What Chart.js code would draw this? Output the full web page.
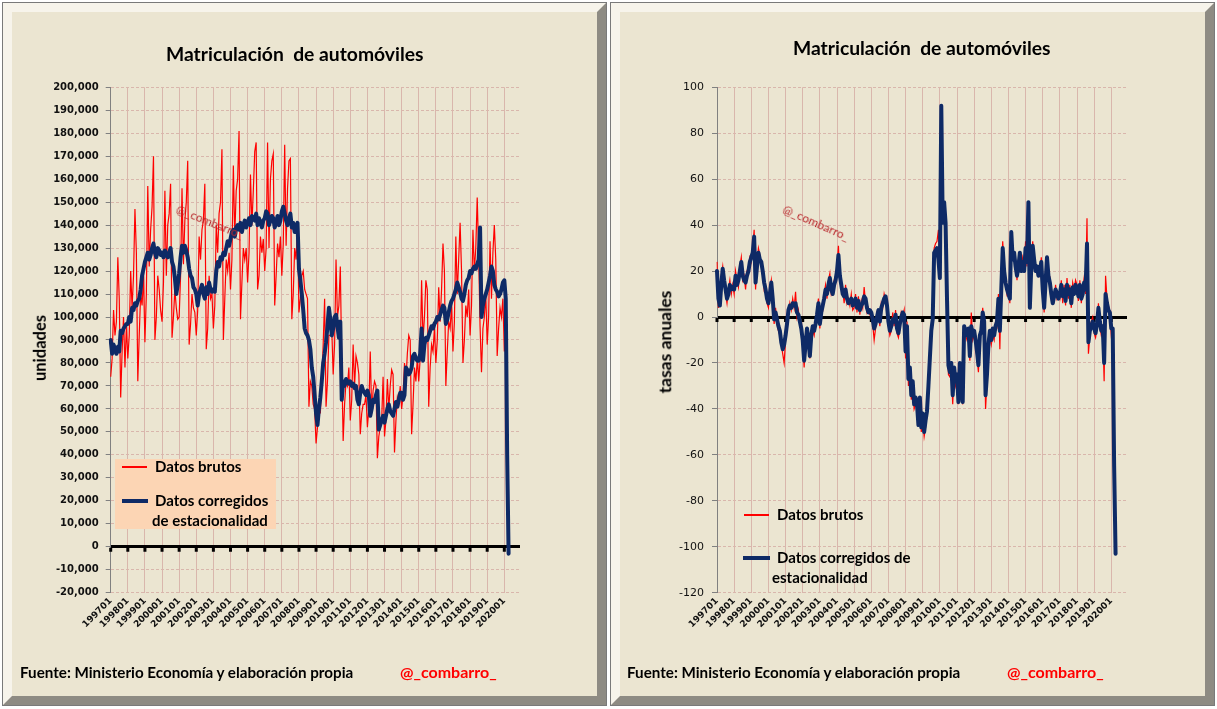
<!DOCTYPE html>
<html>
<head>
<meta charset="utf-8">
<script src="https://cdn.jsdelivr.net/npm/chart.js@4.4.1/dist/chart.umd.min.js"></script>
<style>
  html, body { margin: 0; padding: 0; background: #fff; width: 1217px; height: 709px; overflow: hidden; }
  .panel { position: absolute; top: 2px; width: 605px; height: 704px; box-sizing: border-box; border: 1px solid #7a7a7a; }
  .frame { position: absolute; left: 0; top: 0; right: 0; bottom: 0; border-style: solid; border-width: 9px;
           border-color: #F7F4EB #8E8B83 #8E8B83 #F7F4EB; background: #EBE5D1; }
  canvas { position: absolute; z-index: 1; }
  .t { position: absolute; z-index: 3; font-family: Lato, "Open Sans", sans-serif; font-weight: bold; color: #000; white-space: pre; line-height: 1; }
  .red { color: #FF0000; }
  .wm { position: absolute; z-index: 3; font-family: Lato, sans-serif; font-size: 12px; color: #B8262A; white-space: pre; transform-origin: left top; line-height: 1; }
  .leg-box { position: absolute; z-index: 2; background: #FCD5B4; }
  .sw { position: absolute; z-index: 3; }
</style>
</head>
<body>

<div class="panel" style="left:2px"><div class="frame"></div></div>
<div class="panel" style="left:610px"><div class="frame"></div></div>

<canvas id="left" width="584" height="676" style="left:14px; top:14px"></canvas>
<canvas id="right" width="584" height="676" style="left:619px; top:14px"></canvas>

<!-- left panel texts -->
<div class="t" style="left:166px; top:44px; font-size:19.3px">Matriculación  de automóviles</div>
<div class="t" style="left:40px; top:348px; font-size:16.5px; transform: translate(-50%,-50%) rotate(-90deg)">unidades</div>
<div class="wm" style="left:179px; top:203px; transform: rotate(22deg)">@_combarro_</div>
<div class="leg-box" style="left:115px; top:459px; width:161px; height:70px"></div>
<div class="sw" style="left:122px; top:466px; width:25px; height:1.5px; background:#FF0000"></div>
<div class="t" style="left:155px; top:459px; font-size:15px">Datos brutos</div>
<div class="sw" style="left:122px; top:499px; width:26px; height:4px; background:#0E2A66"></div>
<div class="t" style="left:155px; top:493px; font-size:15px">Datos corregidos</div>
<div class="t" style="left:152px; top:513px; font-size:15px">de estacionalidad</div>
<div class="t" style="left:20px; top:665px; font-size:15.2px">Fuente: Ministerio Economía y elaboración propia</div>
<div class="t red" style="left:400px; top:664px; font-size:16px">@_combarro_</div>

<!-- right panel texts -->
<div class="t" style="left:793px; top:38px; font-size:19.3px">Matriculación  de automóviles</div>
<div class="t" style="left:665px; top:342px; font-size:17.5px; transform: translate(-50%,-50%) rotate(-90deg)">tasas anuales</div>
<div class="wm" style="left:786px; top:203px; transform: rotate(24deg)">@_combarro_</div>
<div class="sw" style="left:744px; top:514px; width:25px; height:1.5px; background:#FF0000"></div>
<div class="t" style="left:777px; top:507px; font-size:15px">Datos brutos</div>
<div class="sw" style="left:743px; top:556px; width:27px; height:4px; background:#0E2A66"></div>
<div class="t" style="left:777px; top:550px; font-size:15px">Datos corregidos de</div>
<div class="t" style="left:772px; top:570px; font-size:15px">estacionalidad</div>
<div class="t" style="left:627px; top:665px; font-size:15.2px">Fuente: Ministerio Economía y elaboración propia</div>
<div class="t red" style="left:1007px; top:664px; font-size:16px">@_combarro_</div>

<script>
// años del eje; las categorías son los meses AAAAMM
const years = [1997, 1998, 1999, 2000, 2001, 2002, 2003, 2004, 2005, 2006, 2007, 2008,
               2009, 2010, 2011, 2012, 2013, 2014, 2015, 2016, 2017, 2018, 2019, 2020];
const months = [];
years.forEach(y => { for (let m = 1; m <= 12; m++) months.push(y + String(m).padStart(2, '0')); });

// Matriculaciones, unidades (datos brutos), 199701-202004
const unitsRaw = [
  74000, 82000, 103000, 92000, 98000, 126000, 108000, 65000, 85000, 100000, 78000, 96000,
  82000, 92000, 120000, 104000, 118000, 147000, 128000, 72000, 92000, 110000, 105000, 118000,
  89000, 110000, 157000, 122000, 138000, 148000, 170000, 90000, 100000, 118000, 112000, 103000,
  98000, 115000, 155000, 118000, 140000, 145000, 158000, 91000, 100000, 112000, 104000, 99000,
  100000, 118000, 156000, 123000, 142000, 150000, 168000, 88000, 97000, 110000, 104000, 102000,
  92000, 103000, 135000, 125000, 138000, 142000, 158000, 86000, 95000, 118000, 108000, 110000,
  95000, 105000, 140000, 128000, 145000, 150000, 173000, 90000, 108000, 125000, 120000, 128000,
  112000, 125000, 166000, 135000, 155000, 160000, 181000, 99000, 115000, 130000, 125000, 130000,
  115000, 128000, 162000, 140000, 155000, 172000, 176000, 112000, 118000, 135000, 128000, 134000,
  120000, 130000, 176000, 130000, 160000, 168000, 171000, 105000, 118000, 132000, 126000, 135000,
  118000, 132000, 175000, 131000, 156000, 168000, 169000, 99000, 110000, 130000, 125000, 140000,
  102000, 108000, 118000, 120000, 112000, 110000, 108000, 61000, 72000, 70000, 62000, 60000,
  45000, 52000, 62000, 58000, 72000, 88000, 108000, 61000, 72000, 92000, 92000, 95000,
  75000, 88000, 125000, 100000, 105000, 122000, 80000, 46000, 62000, 72000, 70000, 78000,
  55000, 64000, 88000, 70000, 83000, 80000, 75000, 49000, 58000, 62000, 62000, 66000,
  52000, 60000, 85000, 58000, 68000, 72000, 70000, 38500, 48000, 52000, 55000, 74000,
  48000, 55000, 73000, 60000, 70000, 77000, 75000, 41000, 55000, 65000, 62000, 70000,
  60000, 66000, 80000, 72000, 84000, 92000, 90000, 49000, 62000, 78000, 72000, 82000,
  72000, 82000, 116000, 90000, 100000, 116000, 112000, 61000, 78000, 88000, 85000, 95000,
  80000, 90000, 113000, 98000, 112000, 132000, 120000, 70000, 85000, 98000, 95000, 105000,
  85000, 98000, 135000, 110000, 125000, 141000, 120000, 80000, 90000, 105000, 100000, 112000,
  92000, 105000, 138000, 120000, 130000, 152000, 128000, 96000, 76000, 95000, 100000, 110000,
  88000, 100000, 133000, 108000, 128000, 140000, 125000, 83000, 95000, 104000, 100000, 108000,
  85000, 95000, 38000, 4000
];

// Matriculaciones, unidades (corregidas de estacionalidad)
const unitsSa = [
  90000, 84000, 88000, 86000, 84000, 87000, 85000, 94000, 93000, 95000, 96000, 97000,
  97000, 100000, 98000, 104000, 103000, 106000, 105000, 107000, 108000, 112000, 118000, 121000,
  124000, 126000, 128000, 125000, 127000, 130000, 132000, 128000, 126000, 130000, 129000, 127000,
  128000, 126000, 129000, 127000, 126000, 128000, 130000, 124000, 122000, 117000, 110000, 114000,
  119000, 126000, 131000, 128000, 131000, 129000, 126000, 121000, 118000, 117000, 113000, 112000,
  110000, 105000, 110000, 112000, 114000, 110000, 108000, 113000, 110000, 115000, 112000, 111000,
  112000, 111000, 120000, 124000, 122000, 126000, 125000, 128000, 127000, 130000, 133000, 131000,
  134000, 137000, 138000, 135000, 139000, 140000, 138000, 141000, 137000, 140000, 142000, 139000,
  141000, 143000, 140000, 144000, 143000, 142000, 145000, 140000, 143000, 141000, 139000, 142000,
  143000, 146000, 145000, 140000, 142000, 144000, 143000, 139000, 141000, 144000, 140000, 142000,
  146000, 148000, 145000, 142000, 140000, 143000, 145000, 139000, 141000, 137000, 139000, 141000,
  121000, 116000, 110000, 103000, 95000, 93000, 92000, 90000, 86000, 78000, 74000, 66000,
  58000, 53000, 60000, 65000, 72000, 80000, 84000, 89000, 96000, 104000, 99000, 92000,
  95000, 100000, 101000, 96000, 91000, 98000, 64000, 72000, 70000, 73000, 72000, 71000,
  72000, 70000, 71000, 69000, 70000, 64000, 62000, 67000, 70000, 68000, 67000, 66000,
  68000, 66000, 57000, 60000, 64000, 63000, 66000, 68000, 51000, 53000, 55000, 57000,
  54000, 57000, 60000, 62000, 59000, 58000, 57000, 60000, 63000, 61000, 64000, 67000,
  67000, 64000, 66000, 78000, 77000, 75000, 76000, 78000, 83000, 84000, 82000, 81000,
  81000, 84000, 95000, 81000, 88000, 91000, 90000, 92000, 94000, 96000, 95000, 97000,
  98000, 100000, 99000, 101000, 103000, 105000, 104000, 97000, 99000, 102000, 105000, 107000,
  108000, 110000, 112000, 115000, 113000, 111000, 108000, 107000, 110000, 114000, 116000, 117000,
  120000, 119000, 121000, 122000, 121000, 123000, 125000, 139000, 100000, 105000, 108000, 110000,
  112000, 115000, 118000, 122000, 120000, 114000, 112000, 111000, 109000, 110000, 112000, 115000,
  116000, 108000, 40000, -3000
];

// Tasas anuales (%), datos brutos
const rateRaw = [
  24, 4, 8, 18, 22, 14, 10, 6, 12, 16, 10, 14,
  10, 20, 16, 13, 22, 26, 16, 18, 12, 20, 22, 26,
  24, 30, 38, 12, 24, 30, 27, 22, 18, 12, 14, 6,
  4, 12, 16, 6, -3, 4, -3, -6, -8, -12, -16, -20,
  -10, -5, 1, 6, 3, 8, 4, 11, 0, 3, -4, -6,
  -12, -22, -10, -7, -12, -18, -6, -6, -8, -2, 3, 8,
  -5, 4, 3, 10, 14, 8, 16, 19, 10, 12, 16, 18,
  22, 31, 16, 12, 12, 6, 14, 6, 8, 5, 10, 3,
  4, 10, 2, 9, 1, 7, 4, 13, 6, 2, 4, 1,
  0, -3, -10, -5, 2, 1, -4, 6, 4, 10, 7, 3,
  -4, -8, -6, 2, -4, 3, -7, -9, -5, 2, 0, 3,
  -18, -2, -30, -24, -36, -30, -40, -38, -40, -45, -38, -50,
  -44, -52, -48, -43, -33, -20, -10, 2, 30, 32, 33, 38,
  20, 88, 44, 47, 43, 10, -25, -26, -22, -38, -24, -30,
  -27, -38, -22, -32, -38, -6, -8, -10, -7, -19, 2, -10,
  -8, -12, -18, -24, -10, -4, 4, -4, -40, -28, -14, -8,
  -12, -8, -10, -2, -4, 10, -14, 15, 33, 22, 17, 10,
  12, 6, 35, 27, 26, 24, 16, 25, 26, 22, 26, 22,
  33, 22, 48, 6, 24, 33, 23, 22, 20, 20, 18, 26,
  14, 2, 18, 24, 16, 17, 8, 9, 7, 14, 8, 10,
  8, 16, 6, 14, 5, 17, 8, 14, 4, 15, 12, 16,
  14, 7, 16, 6, 12, 17, 10, 43, -16, -8, -2, 0,
  -7, -9, -5, 6, -4, -8, -6, -28, 18, 8, 5, 1,
  -8, -6, -69, -96
];

// Tasas anuales (%), datos corregidos de estacionalidad
const rateSa = [
  20, 8, 5, 14, 21, 16, 12, 8, 10, 14, 12, 13,
  12, 18, 14, 16, 20, 24, 18, 16, 15, 18, 20, 24,
  26, 28, 35, 15, 22, 28, 25, 24, 20, 15, 12, 8,
  6, 10, 15, 8, -1, 2, -1, -4, -6, -11, -14, -12,
  -8, -3, 3, 5, 4, 6, 5, 6, 2, 1, -2, -5,
  -10, -19, -12, -5, -10, -17, -8, -4, -6, -3, 1, 6,
  -3, 2, 5, 8, 12, 10, 14, 17, 12, 10, 14, 16,
  20, 27, 18, 14, 10, 9, 12, 8, 6, 7, 8, 5,
  6, 8, 4, 7, 3, 5, 6, 9, 8, 4, 2, 3,
  2, -1, -5, -3, 0, 3, -2, 4, 6, 8, 9, 5,
  -2, -6, -4, -1, -2, 1, -5, -7, -3, 0, 2, 1,
  -15, -4, -27, -22, -34, -28, -38, -35, -38, -47, -35, -48,
  -42, -50, -45, -41, -30, -18, -6, -1, 28, 29, 30, 25,
  17, 92, 41, 50, 41, 8, -21, -24, -20, -34, -22, -28,
  -25, -37, -20, -30, -37, -4, -6, -8, -5, -17, -4, -8,
  -6, -10, -15, -21, -8, -6, 2, -2, -34, -25, -12, -6,
  -10, -5, -8, -4, -2, 8, -6, 12, 30, 20, 15, 12,
  10, 8, 37, 25, 28, 22, 18, 22, 28, 20, 24, 20,
  30, 24, 50, 4, 22, 31, 25, 20, 22, 18, 20, 24,
  12, 4, 15, 26, 18, 15, 10, 6, 9, 12, 10, 8,
  10, 14, 9, 12, 7, 14, 10, 12, 6, 13, 10, 14,
  12, 9, 14, 8, 10, 15, 12, 32, -11, -6, -4, -2,
  -5, -7, -3, 4, -2, -6, -4, -20, 10, 6, 3, 2,
  -5, -5, -65, -103
];

const RED = '#FF0000';
const NAVY = '#0E2A66';
const GRID = '#D9B6AC';

// marcas del eje de categorías sobre la línea del cero
const zeroTicks = {
  id: 'zeroTicks',
  beforeDatasetsDraw(chart) {
    const { ctx, scales: { x, y } } = chart;
    const y0 = y.getPixelForValue(0);
    ctx.save();
    ctx.fillStyle = '#000';
    for (let i = 0; i < months.length; i += 12) {
      ctx.fillRect(x.getPixelForValue(i) - 1.5, y0 + 1, 3, 4);
    }
    ctx.restore();
  }
};

function makeChart(id, raw, sa, yOpts) {
  const ctx = document.getElementById(id).getContext('2d');
  return new Chart(ctx, {
    type: 'line',
    data: {
      labels: months,
      datasets: [
        { data: sa, borderColor: NAVY, borderWidth: 4, pointRadius: 0, tension: 0, order: 0,
          borderJoinStyle: 'round', borderCapStyle: 'round' },
        { data: raw, borderColor: RED, borderWidth: 1.2, pointRadius: 0, tension: 0, order: 1 }
      ]
    },
    options: {
      responsive: false,
      devicePixelRatio: 1,
      animation: false,
      layout: { padding: { top: 73.3, right: yOpts.padRight, left: 0, bottom: 0 } },
      plugins: { legend: { display: false }, tooltip: { enabled: false } },
      scales: {
        x: {
          type: 'category',
          offset: false,
          afterFit: s => { s.height = 97.3; },
          grid: {
            offset: false,
            drawTicks: false,
            color: c => (c.index % 12 === 0 ? GRID : 'rgba(0,0,0,0)'),
            lineWidth: 1
          },
          border: { display: false },
          ticks: {
            autoSkip: false,
            maxRotation: 45,
            minRotation: 45,
            padding: 3,
            color: '#111',
            font: { family: 'DejaVu Sans', size: 9, weight: 'bold' },
            callback: (v, i) => (i % 12 === 0 ? months[i] : '')
          }
        },
        y: {
          min: yOpts.min,
          max: yOpts.max,
          afterFit: s => { s.width = yOpts.axisLeft; },
          grid: {
            color: c => (c.tick && c.tick.value === 0 ? '#000' : GRID),
            lineWidth: c => (c.tick && c.tick.value === 0 ? 3 : 1),
            tickColor: '#808080',
            tickWidth: 1,
            tickLength: 5
          },
          border: { display: true, color: '#808080', width: 1,
                    dash: c => (c.tick && c.tick.value === 0 ? [] : [3, 2]) },
          ticks: {
            stepSize: yOpts.step,
            padding: yOpts.tickPad,
            color: '#111',
            font: yOpts.font,
            callback: yOpts.format
          }
        }
      }
    },
    plugins: [zeroTicks]
  });
}

makeChart('left', unitsRaw, unitsSa, {
  min: -20000, max: 200000, step: 10000, axisLeft: 96.7, padRight: 78, tickPad: 7,
  font: { family: 'DejaVu Sans', size: 10, weight: 'bold' },
  format: v => v.toLocaleString('en-US')
});

makeChart('right', rateRaw, rateSa, {
  min: -120, max: 100, step: 20, axisLeft: 98, padRight: 76, tickPad: 8,
  font: { family: 'DejaVu Sans', size: 11 },
  format: v => String(v)
});
</script>
</body>
</html>
